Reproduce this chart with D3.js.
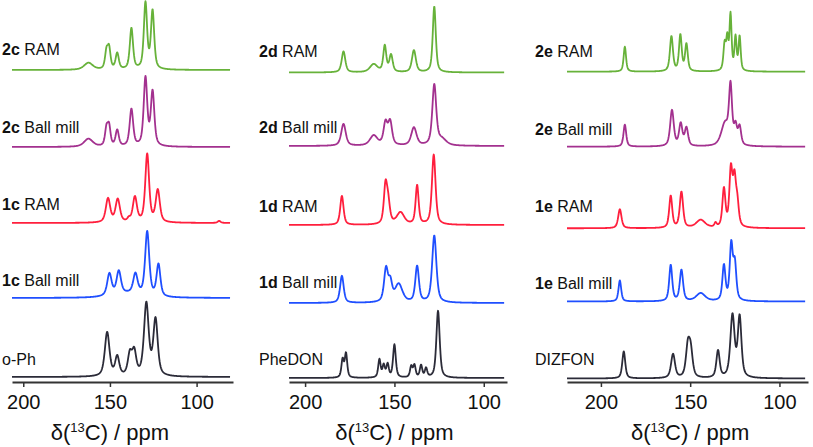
<!DOCTYPE html>
<html><head><meta charset="utf-8">
<script src="https://cdn.jsdelivr.net/npm/d3@7/dist/d3.min.js"></script>
<style>body{margin:0;background:#fff}svg{display:block;font-family:Arial,"Liberation Sans",sans-serif}</style>
</head><body><svg id="c" width="813" height="447"></svg>
<script>
// ---- data: peak lists [ppm, height, fwhm] ----
const panels = ["c", "d", "e"];
const tickValues = [200, 150, 100];
const axisTitle = "ppm";
// panel c
const peaks_oPh      = [[151.6,44,3.2],[145.8,19,2.8],[138.5,21,2.8],[136,23,2.8],[129,72,3.2],[123.7,56,3.0]];
const peaks_1cBall   = [[150.3,22,3.0],[144.9,23,3.0],[140,4,20],[135.3,20,3.0],[128.5,64,2.8],[122,32,2.6]];
const peaks_1cRAM    = [[151.1,24,3.0],[145.5,23,3.0],[139.1,3,2],[135.6,25,2.8],[128.5,68,2.6],[122.4,32,2.8],[87,2,2]];
const peaks_2cBall   = [[162.4,8,6],[152,17,2],[150.5,19,2],[145.8,16,2.2],[137.6,37,2.4],[129.5,68,2.4],[125.4,54,2.4]];
const peaks_2cRAM    = [[162.4,7,6],[152,17,2],[150.5,20,2],[145.8,16,2.2],[137.6,41,2.2],[129.5,66,2.2],[125.4,58,2.2]];
// panel d
const peaks_PheDON   = [[179,18,1.6],[177.1,24,1.6],[158.4,18,1.6],[156,12,1.6],[153.8,13,1.6],[150,33,1.8],[140.6,11,1.6],[138.8,12,1.6],[135.1,12,1.6],[132.3,9,1.6],[125.6,67,2.2]];
const peaks_1dBall   = [[179.4,27,2.4],[154.7,33,2.6],[152.3,18,2.4],[147.6,18,5],[137.3,36,2.4],[127.7,67,2.8]];
const peaks_1dRAM    = [[179.4,29,2.2],[155,37,2.2],[153.5,20,2.4],[146.6,12,5],[137.3,39,2],[128,70,2.4]];
const peaks_2dBall   = [[178.5,22,3],[161.6,10,5],[155,22,2.6],[152.4,23,2.6],[139.1,18,3.5],[127.7,60,2.6],[123.5,6,6]];
const peaks_2dRAM    = [[178.5,21,2.4],[161.6,8,5],[155.4,26,2],[151.9,17,2.2],[139.1,22,2.6],[127.7,66,2]];
// panel e
const peaks_DIZFON   = [[187.2,27,2],[159.6,24,2.6],[151.3,30,2.6],[149.7,25,2.6],[134.4,27,2.2],[126.3,62,2.8],[122.3,60,2.4]];
const peaks_1eBall   = [[189.4,21,1.8],[160.9,36,2],[154.9,31,2.2],[144.1,8,6],[131.1,35,2],[127,55,2],[125,36,2]];
const peaks_1eRAM    = [[189.4,19,2.2],[160.9,32,2],[154.9,36,2.2],[144.1,8,6],[135.8,4,1.5],[131.1,38,2],[127.2,56,2],[125.2,45,2],[123.6,22,2]];
const peaks_2eBall   = [[186.6,22,1.8],[160.2,36,2.4],[155.3,22,2.2],[152.1,18,2.2],[130.5,22,5],[127.4,56,2],[124.6,18,2],[122.3,18,2]];
const peaks_2eRAM    = [[186.6,25,1.6],[160.5,35,2],[155.5,36,1.8],[152.1,27,1.8],[130.7,26,1.6],[129.2,30,1.4],[127.4,55,1.4],[124.6,33,1.4],[122.3,34,1.4]];

const sampleLabels = [
  [["", "o-Ph"], ["1c", " Ball mill"], ["1c", " RAM"], ["2c", " Ball mill"], ["2c", " RAM"]],
  [["", "PheDON"], ["1d", " Ball mill"], ["1d", " RAM"], ["2d", " Ball mill"], ["2d", " RAM"]],
  [["", "DIZFON"], ["1e", " Ball mill"], ["1e", " RAM"], ["2e", " Ball mill"], ["2e", " RAM"]]
];
const spectra = [
  [peaks_oPh, peaks_1cBall, peaks_1cRAM, peaks_2cBall, peaks_2cRAM],
  [peaks_PheDON, peaks_1dBall, peaks_1dRAM, peaks_2dBall, peaks_2dRAM],
  [peaks_DIZFON, peaks_1eBall, peaks_1eRAM, peaks_2eBall, peaks_2eRAM]
];

// ---- layout / style ----
const colors = ["#2b2b38", "#1f4fff", "#ff1f3d", "#a3318f", "#67b23a"];
const panelCfg = [
  {domain: [206.5, 79], range: [12, 233], labelX: 2,   baselines: [377, 298, 223, 147, 70]},
  {domain: [209, 87],   range: [289, 507], labelX: 259, baselines: [378, 303, 225, 146, 72.5]},
  {domain: [219, 84],   range: [567, 808], labelX: 535, baselines: [378.5, 301.5, 228.3, 146.7, 71.7]}
];
const labelBaselines = [[365, 286, 210, 133, 55], [365, 288, 212, 133, 57], [365, 289, 212, 135, 57]];
const axisY = 382;

function pv(x, c, h, w) {
  const d = (x - c) / w;
  const L = 1 / (1 + 4 * d * d);
  const G = Math.exp(-4 * Math.LN2 * d * d);
  return h * (0.6 * L + 0.4 * G);
}

const svg = d3.select("#c");
panels.forEach((p, pi) => {
  const cfg = panelCfg[pi];
  const x = d3.scaleLinear().domain(cfg.domain).range(cfg.range);
  const ppmGrid = d3.range(cfg.domain[0], cfg.domain[1] + 1.5, -0.2);
  spectra[pi].forEach((peaks, ti) => {
    const base = cfg.baselines[ti];
    const y = d3.scaleLinear().domain([0, 100]).range([base, base - 100]);
    const pts = ppmGrid.map(s => [s, d3.sum(peaks, pk => pv(s, pk[0], pk[1], pk[2]))]);
    svg.append("path").datum(pts)
      .attr("fill", "none").attr("stroke", colors[ti]).attr("stroke-width", 1.8)
      .attr("stroke-linejoin", "round")
      .attr("d", d3.line().x(d => x(d[0])).y(d => y(d[1])));
    const lab = sampleLabels[pi][ti];
    const t = svg.append("text").attr("x", cfg.labelX).attr("y", labelBaselines[pi][ti])
      .attr("font-size", 16).attr("fill", "#111");
    if (lab[0]) t.append("tspan").attr("font-weight", "bold").text(lab[0]);
    t.append("tspan").text(lab[1]);
  });
  const ax = svg.append("g").attr("transform", `translate(0,${axisY})`)
    .call(d3.axisBottom(x).tickValues(tickValues).tickSize(5).tickSizeOuter(0).tickPadding(8));
  ax.select(".domain").attr("stroke", "#333").attr("stroke-width", 2);
  ax.selectAll(".tick line").attr("stroke", "#333").attr("stroke-width", 1.5);
  ax.selectAll(".tick text").attr("font-size", 20).attr("fill", "#111").attr("font-family", "Arial, 'Liberation Sans', sans-serif");
  const cx = x(150);
  const title = svg.append("text").attr("x", cx).attr("y", 440).attr("text-anchor", "middle")
    .attr("font-size", 22).attr("fill", "#111");
  title.append("tspan").text("δ(");
  title.append("tspan").attr("font-size", 13).attr("dy", -8).text("13");
  title.append("tspan").attr("dy", 8).text("C) / " + axisTitle);
});
</script></body></html>
